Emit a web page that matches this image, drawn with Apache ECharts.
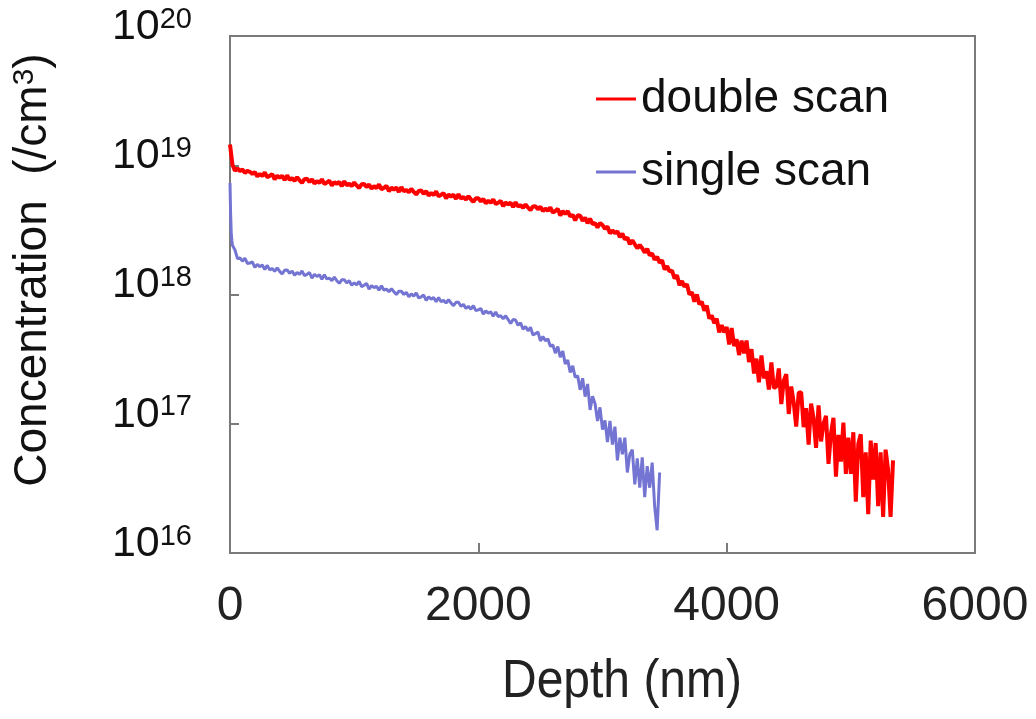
<!DOCTYPE html>
<html>
<head>
<meta charset="utf-8">
<script src="https://cdn.jsdelivr.net/npm/echarts@6.0.0/dist/echarts.min.js"></script>
<style>
html,body{margin:0;padding:0;background:#fff;}
#chart{width:1036px;height:719px;}
</style>
</head>
<body>
<div id="chart"></div>
<script>
// ---- Data (depth in nm, concentration in units of 1e16 /cm^3) ----
const seriesNames = ['double scan', 'single scan'];
const xTicks = [0, 2000, 4000, 6000];

const doubleDepth = [
0,20,40,60,80,100,120,140,160,180,
200,220,240,260,280,300,320,340,360,380,
400,420,440,460,480,500,520,540,560,580,
600,620,640,660,680,700,720,740,760,780,
800,820,840,860,880,900,920,940,960,980,
1000,1020,1040,1060,1080,1100,1120,1140,1160,1180,
1200,1220,1240,1260,1280,1300,1320,1340,1360,1380,
1400,1420,1440,1460,1480,1500,1520,1540,1560,1580,
1600,1620,1640,1660,1680,1700,1720,1740,1760,1780,
1800,1820,1840,1860,1880,1900,1920,1940,1960,1980,
2000,2020,2040,2060,2080,2100,2120,2140,2160,2180,
2200,2220,2240,2260,2280,2300,2320,2340,2360,2380,
2400,2420,2440,2460,2480,2500,2520,2540,2560,2580,
2600,2620,2640,2660,2680,2700,2720,2740,2760,2780,
2800,2820,2840,2860,2880,2900,2920,2940,2960,2980,
3000,3020,3040,3060,3080,3100,3120,3140,3160,3180,
3200,3220,3240,3260,3280,3300,3320,3340,3360,3380,
3400,3420,3440,3460,3480,3500,3520,3540,3560,3580,
3600,3620,3640,3660,3680,3700,3720,3740,3760,3780,
3800,3820,3840,3860,3880,3900,3920,3940,3960,3980,
4000,4020,4040,4060,4080,4100,4120,4140,4160,4180,
4200,4220,4240,4260,4280,4300,4320,4340,4360,4380,
4400,4420,4440,4460,4480,4500,4520,4540,4560,4580,
4600,4620,4640,4660,4680,4700,4720,4740,4760,4780,
4800,4820,4840,4860,4880,4900,4920,4940,4960,4980,
5000,5020,5040,5060,5080,5100,5120,5140,5160,5180,
5200,5220,5240,5260,5280,5300,5320,5340
];
const doubleConc = [
1445,1010,905,945,900,930,872,905,890,858,
886,820,857,826,880,807,828,856,778,830,
802,829,768,835,774,793,758,808,765,731,
780,785,743,778,721,755,730,779,717,736,
762,694,742,717,743,689,752,700,719,689,
736,698,667,712,716,678,710,659,689,665,
710,652,669,692,629,671,648,672,622,677,
629,645,616,657,622,594,633,637,602,629,
583,610,588,627,575,590,610,555,593,572,
592,549,597,554,568,542,577,545,520,555,
556,525,549,508,531,512,545,501,513,531,
483,515,497,513,475,517,479,491,468,498,
471,449,480,482,457,477,442,462,444,473,
429,443,460,408,442,421,441,402,413,375,
410,407,372,393,356,386,351,356,330,358,
345,322,336,297,313,298,309,278,296,267,
276,245,262,245,228,242,228,211,226,201,
208,186,196,176,184,156,166,151,153,133,
141,118,127,115,120,100,104,88,100,84,
88,75,82,65,69,60,65,51,58,51,
56,41,55,40,45,34,44,35,44,30,
37.8,24.5,31.9,20.9,33.8,22.5,25.5,18.4,29.8,18.9,
19.4,26.8,14.2,21.6,24.2,11.9,19.4,14.6,9.5,17.3,
17.6,9.4,13.2,6.9,14.3,11,6.5,13.9,7.3,10,
11.5,4.9,8.4,11.1,3.9,8.2,5.1,10.2,4.1,7.8,
4.1,8.6,2.5,7.0,8.3,2.7,6.0,2.0,7.4,3.7,
7.1,2.3,6.0,1.9,6.3,4.4,1.9,5.2
];

const singleDepth = [
0,5,10,15,20,
40,60,80,100,120,140,160,180,200,220,
240,260,280,300,320,340,360,380,400,420,
440,460,480,500,520,540,560,580,600,620,
640,660,680,700,720,740,760,780,800,820,
840,860,880,900,920,940,960,980,1000,1020,
1040,1060,1080,1100,1120,1140,1160,1180,1200,1220,
1240,1260,1280,1300,1320,1340,1360,1380,1400,1420,
1440,1460,1480,1500,1520,1540,1560,1580,1600,1620,
1640,1660,1680,1700,1720,1740,1760,1780,1800,1820,
1840,1860,1880,1900,1920,1940,1960,1980,2000,2020,
2040,2060,2080,2100,2120,2140,2160,2180,2200,2220,
2240,2260,2280,2300,2320,2340,2360,2380,2400,2420,
2440,2460,2480,2500,2520,2540,2560,2580,2600,2620,
2640,2660,2680,2700,2720,2740,2760,2780,2800,2820,
2840,2860,2880,2900,2920,2940,2960,2980,3000,3020,
3040,3060,3080,3100,3120,3140,3160,3180,3200,3220,
3240,3260,3280,3300,3320,3340,3360,3380,3400,3420,
3440,3460
];
const singleConc = [
729,420,300,262,240,
221,190,192,181,191,174,175,179,162,171,
164,169,156,168,155,159,151,161,151,144,
154,155,146,152,141,148,143,152,140,143,
148,134,143,138,142,131,142,132,134,128,
136,128,122,130,130,123,128,118,123,119,
126,115,118,122,110,117,113,116,108,117,
108,110,105,111,105,100,106,106,100,104,
96,101,97,103,94,96,99,90,96,92,
95,88,95,88,90,86,91,86,82,87,
87,81,84,78,81,77,82,75,76,78,
70.5,74.8,71.7,73.6,67.8,73.2,67.4,68.6,65,68.4,
64,59.6,64.1,63.4,57.8,60.5,54,56.5,52.4,55.8,
48.6,49.8,51.3,43.7,47.4,43.8,45.4,39.7,40.8,35.2,
39.5,32.8,36.5,29,31.1,24.9,28.1,22.9,23.5,18.3,
22.5,16.2,20.3,12.8,16.3,14.3,10.5,13.4,9.0,10.6,
7.2,10.5,6.9,9.5,5.2,7.8,5.8,7.8,4.2,5.8,
6.3,3.4,5.4,3.2,5.5,2.7,4.7,3.2,5.0,2.3,
1.5,4.2
];
const concUnit = 1e16;

// ---- Build ----
function pairs(d, c) { return d.map((x, i) => [x, c[i] * concUnit]); }

const chart = echarts.init(document.getElementById('chart'), null, {renderer: 'canvas'});
const axisColor = '#7a7a7a';
const font = 'Liberation Sans, Arial, sans-serif';
const red = '#ff0000', blue = '#7474d2';

chart.setOption({
  animation: false,
  backgroundColor: '#ffffff',
  grid: {left: 230, right: 61, top: 36, bottom: 166, show: true, borderColor: axisColor, borderWidth: 2, backgroundColor: 'transparent'},
  legend: {
    data: [
      {name: seriesNames[0], icon: 'rect', itemStyle: {color: red}},
      {name: seriesNames[1], icon: 'rect', itemStyle: {color: blue}}
    ],
    orient: 'vertical', left: 596, top: 74, itemGap: 23,
    itemWidth: 40, itemHeight: 3, padding: 0,
    textStyle: {fontSize: 46, fontFamily: font, color: '#111', lineHeight: 50}
  },
  xAxis: {
    type: 'value', min: xTicks[0], max: xTicks[xTicks.length - 1], interval: 2000,
    axisLine: {show: true, lineStyle: {color: axisColor, width: 2}},
    axisTick: {show: true, inside: true, length: 10, lineStyle: {color: axisColor, width: 2}},
    splitLine: {show: false},
    axisLabel: {fontSize: 48, fontFamily: font, color: '#222', margin: 30,
      formatter: function (v) { return String(v); }}
  },
  yAxis: {
    type: 'log', logBase: 10, min: 1e16, max: 1e20,
    axisLine: {show: true, lineStyle: {color: axisColor, width: 2}},
    axisTick: {show: true, inside: true, length: 9, lineStyle: {color: axisColor, width: 2}},
    splitLine: {show: false},
    minorTick: {show: false},
    axisLabel: {
      margin: 38, padding: [0, 0, 18, 0],
      formatter: function (v) { return '{b|10}{s|' + Math.round(Math.log10(v)) + '}'; },
      rich: {
        b: {fontSize: 43, fontFamily: font, color: '#111', lineHeight: 44},
        s: {fontSize: 29, fontFamily: font, color: '#111', verticalAlign: 'top', lineHeight: 44, padding: [0, 0, 14, 0]}
      }
    }
  },
  graphic: [
    {type: 'text', x: 622, y: 655, scaleY: 1.12,
     style: {text: 'Depth (nm)', fontSize: 48, fontFamily: font, fill: '#222', align: 'center', verticalAlign: 'top'}},
    {type: 'text', x: 33, y: 270, rotation: Math.PI / 2,
     style: {text: 'Concentration  (/cm{sup|3})', fontSize: 46, fontFamily: font, fill: '#111',
       align: 'center', verticalAlign: 'middle',
       rich: {sup: {fontSize: 30, fontFamily: font, fill: '#111', verticalAlign: 'top', padding: [0, 0, 16, 0]}}}}
  ],
  series: [
    {name: seriesNames[0], type: 'line', symbol: 'none', showSymbol: false, sampling: false,
     lineStyle: {color: red, width: 4}, itemStyle: {color: red},
     data: pairs(doubleDepth, doubleConc)},
    {name: seriesNames[1], type: 'line', symbol: 'none', showSymbol: false, sampling: false,
     lineStyle: {color: blue, width: 3}, itemStyle: {color: blue},
     data: pairs(singleDepth, singleConc)}
  ]
});
</script>
</body>
</html>
